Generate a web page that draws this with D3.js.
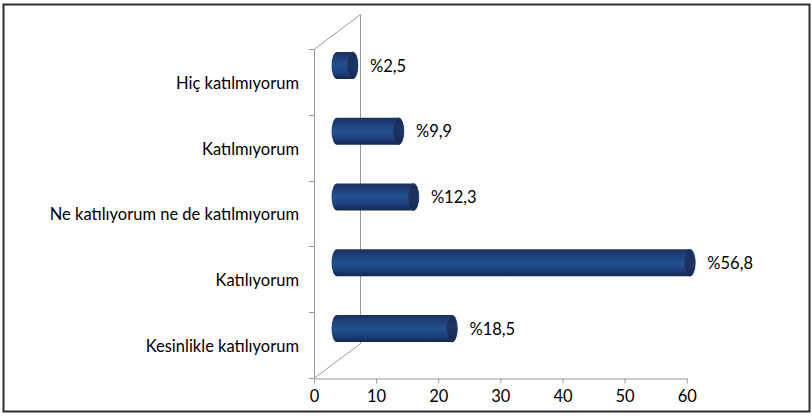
<!DOCTYPE html>
<html>
<head>
<meta charset="utf-8">
<script src="https://cdn.jsdelivr.net/npm/d3@7/dist/d3.min.js"></script>
<style>
  html, body { margin: 0; padding: 0; background: #fff; }
  svg { display: block; }
  text { font-family: Lato, "Open Sans", sans-serif; fill: #000; }
</style>
</head>
<body>
<svg id="chart" width="812" height="419"></svg>
<script>
// Survey responses (percent)
const categories = [
  "Hiç katılmıyorum",
  "Katılmıyorum",
  "Ne katılıyorum ne de katılmıyorum",
  "Katılıyorum",
  "Kesinlikle katılıyorum"
];
const values = [2.5, 9.9, 12.3, 56.8, 18.5];
const valueLabels = ["%2,5", "%9,9", "%12,3", "%56,8", "%18,5"];
const xTicks = [0, 10, 20, 30, 40, 50, 60];

const svg = d3.select("#chart");

// outer frame
svg.append("rect")
  .attr("x", 3.5).attr("y", 4.5)
  .attr("width", 806).attr("height", 407)
  .attr("fill", "none").attr("stroke", "#2e2e2e").attr("stroke-width", 2);

// front plane of the 3D plot area
const x = d3.scaleLinear().domain([0, 60]).range([314, 686.7]);
const y = d3.scaleBand().domain(categories).range([49, 378]);

// depth of the plot box (back wall offset) and bar placement (half depth)
const depth = { dx: 46, dy: -34.5 };
const barOff = { dx: 23, dy: -16.5 };
const barH = 27;
const capRx = 5.5;
const fontSize = 16.5;

const axisColor = "#9a9a9a";
const walls = svg.append("g").attr("stroke", axisColor).attr("fill", "none").attr("stroke-width", 1);

const x0 = x(0), yTop = y.range()[0], yBot = y.range()[1];
// left wall: front edge, back edge, top and bottom diagonals
walls.append("line").attr("x1", x0 + 0.5).attr("x2", x0 + 0.5).attr("y1", yTop).attr("y2", yBot);
walls.append("line").attr("x1", x0 + depth.dx + 0.5).attr("x2", x0 + depth.dx + 0.5)
  .attr("y1", yTop + depth.dy).attr("y2", yBot + depth.dy);
walls.append("line").attr("x1", x0 + 0.5).attr("y1", yTop)
  .attr("x2", x0 + depth.dx + 0.5).attr("y2", yTop + depth.dy);
walls.append("line").attr("x1", x0 + 0.5).attr("y1", yBot)
  .attr("x2", x0 + depth.dx + 0.5).attr("y2", yBot + depth.dy);

// category ticks at band boundaries
const boundaries = categories.map(c => y(c)).concat([yBot]);
walls.selectAll("line.ytick").data(boundaries).enter().append("line")
  .attr("class", "ytick")
  .attr("x1", x0 - 5).attr("x2", x0 + 0.5)
  .attr("y1", d => Math.round(d) + 0.5).attr("y2", d => Math.round(d) + 0.5);

// bottom value axis
const xAxis = svg.append("g")
  .attr("transform", `translate(0,${Math.round(yBot) + 0.5})`)
  .call(d3.axisBottom(x).tickValues(xTicks).tickSize(5).tickSizeOuter(0).tickPadding(7));
xAxis.select(".domain").attr("stroke", axisColor);
xAxis.selectAll(".tick line").attr("stroke", axisColor);
xAxis.selectAll(".tick text")
  .attr("font-family", "Lato, sans-serif").attr("font-size", fontSize).attr("fill", "#000");

// category labels
const yAxis = svg.append("g")
  .attr("transform", `translate(${x0},0)`)
  .call(d3.axisLeft(y).tickSize(0).tickPadding(15));
yAxis.select(".domain").remove();
yAxis.selectAll(".tick text")
  .attr("font-family", "Lato, sans-serif").attr("font-size", fontSize).attr("fill", "#000")
  .attr("dy", "0.42em");

// cylinder shading
const defs = svg.append("defs");
const body = defs.append("linearGradient").attr("id", "cylBody")
  .attr("x1", 0).attr("y1", 0).attr("x2", 0).attr("y2", 1);
[[0, "#1a2f5d"], [0.18, "#1e3d76"], [0.5, "#22508f"], [0.78, "#1d3f7b"], [1, "#132650"]]
  .forEach(([o, c]) => body.append("stop").attr("offset", o).attr("stop-color", c));
const cap = defs.append("linearGradient").attr("id", "cylCap")
  .attr("x1", 0).attr("y1", 0).attr("x2", 0).attr("y2", 1);
[[0, "#1a2d57"], [0.5, "#1d3463"], [1, "#16284f"]]
  .forEach(([o, c]) => cap.append("stop").attr("offset", o).attr("stop-color", c));

const data = categories.map((c, i) => ({ c, v: values[i], label: valueLabels[i] }));

const bars = svg.append("g").selectAll("g.bar").data(data).enter().append("g").attr("class", "bar");

function geom(d) {
  const xa = x(0) + barOff.dx;
  const xb = x(d.v) + barOff.dx;
  const cy = y(d.c) + y.bandwidth() / 2 + barOff.dy;
  return { xa, xb, top: cy - barH / 2, bot: cy + barH / 2, cy };
}

bars.append("path")
  .attr("d", d => {
    const g = geom(d);
    const ry = barH / 2;
    return `M${g.xa},${g.top} L${g.xb},${g.top} A${capRx},${ry} 0 0 1 ${g.xb},${g.bot} ` +
           `L${g.xa},${g.bot} A${capRx},${ry} 0 0 1 ${g.xa},${g.top} Z`;
  })
  .attr("fill", "url(#cylBody)");

bars.append("ellipse")
  .attr("cx", d => geom(d).xb)
  .attr("cy", d => geom(d).cy)
  .attr("rx", capRx).attr("ry", barH / 2)
  .attr("fill", "url(#cylCap)")
  .attr("stroke", "#2b4778").attr("stroke-width", 0.5);

// value labels
bars.append("text")
  .attr("x", d => geom(d).xb + capRx + 12)
  .attr("y", d => geom(d).cy)
  .attr("dy", "0.38em")
  .attr("font-size", fontSize)
  .text(d => d.label);
</script>
</body>
</html>
